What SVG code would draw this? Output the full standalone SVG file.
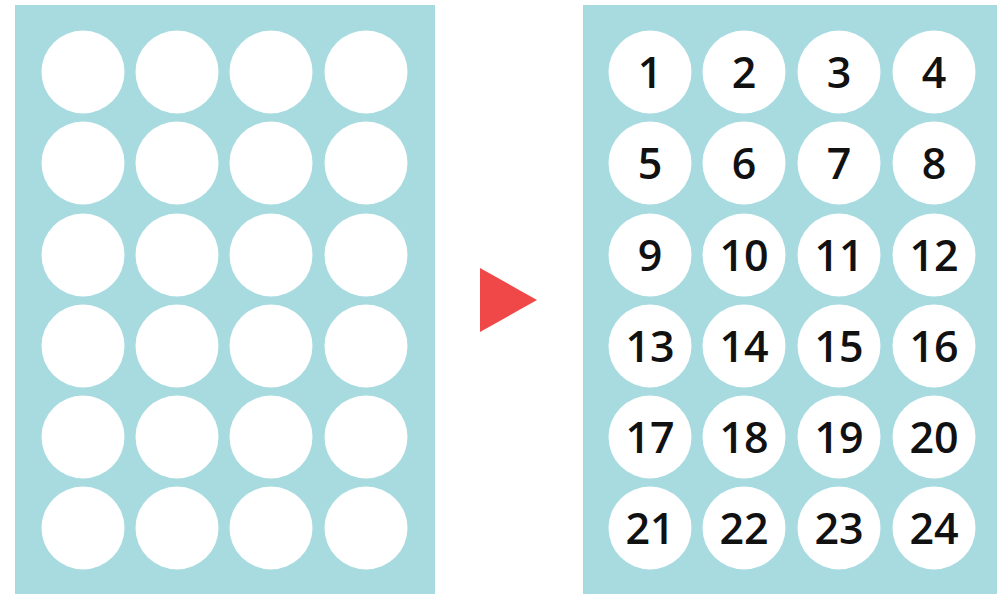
<svg xmlns="http://www.w3.org/2000/svg" width="1000" height="598" viewBox="0 0 1000 598">
<style>
.panel{fill:#a7dbe0}
.c{fill:#ffffff}
.n{font-family:"Open Sans","Noto Sans",sans-serif;font-size:43px;font-weight:600;fill:#111111;text-anchor:middle}
</style>
<defs><circle id="dot" r="41.5" class="c"/></defs>
<rect width="1000" height="598" fill="#ffffff"/>
<g id="left-sheet">
<rect class="panel" x="15" y="5" width="420" height="589"/>
<g>
<use href="#dot" x="83" y="72"/><use href="#dot" x="177" y="72"/><use href="#dot" x="271" y="72"/><use href="#dot" x="366" y="72"/>
<use href="#dot" x="83" y="163"/><use href="#dot" x="177" y="163"/><use href="#dot" x="271" y="163"/><use href="#dot" x="366" y="163"/>
<use href="#dot" x="83" y="255"/><use href="#dot" x="177" y="255"/><use href="#dot" x="271" y="255"/><use href="#dot" x="366" y="255"/>
<use href="#dot" x="83" y="346"/><use href="#dot" x="177" y="346"/><use href="#dot" x="271" y="346"/><use href="#dot" x="366" y="346"/>
<use href="#dot" x="83" y="437"/><use href="#dot" x="177" y="437"/><use href="#dot" x="271" y="437"/><use href="#dot" x="366" y="437"/>
<use href="#dot" x="83" y="528"/><use href="#dot" x="177" y="528"/><use href="#dot" x="271" y="528"/><use href="#dot" x="366" y="528"/>
</g>
</g>
<g id="arrow">
<polygon points="480,268 537,300 480,332" fill="#f04848"/>
</g>
<g id="right-sheet">
<rect class="panel" x="583" y="5" width="414" height="589"/>
<g>
<use href="#dot" x="650" y="72"/><use href="#dot" x="744" y="72"/><use href="#dot" x="839" y="72"/><use href="#dot" x="934" y="72"/>
<use href="#dot" x="650" y="163"/><use href="#dot" x="744" y="163"/><use href="#dot" x="839" y="163"/><use href="#dot" x="934" y="163"/>
<use href="#dot" x="650" y="255"/><use href="#dot" x="744" y="255"/><use href="#dot" x="839" y="255"/><use href="#dot" x="934" y="255"/>
<use href="#dot" x="650" y="346"/><use href="#dot" x="744" y="346"/><use href="#dot" x="839" y="346"/><use href="#dot" x="934" y="346"/>
<use href="#dot" x="650" y="437"/><use href="#dot" x="744" y="437"/><use href="#dot" x="839" y="437"/><use href="#dot" x="934" y="437"/>
<use href="#dot" x="650" y="528"/><use href="#dot" x="744" y="528"/><use href="#dot" x="839" y="528"/><use href="#dot" x="934" y="528"/>
</g>
<g>
<text class="n" x="650" y="88">1</text><text class="n" x="744" y="88">2</text><text class="n" x="839" y="88">3</text><text class="n" x="934" y="88">4</text>
<text class="n" x="650" y="179">5</text><text class="n" x="744" y="179">6</text><text class="n" x="839" y="179">7</text><text class="n" x="934" y="179">8</text>
<text class="n" x="650" y="271">9</text><text class="n" x="744" y="271">10</text><text class="n" x="839" y="271">11</text><text class="n" x="934" y="271">12</text>
<text class="n" x="650" y="362">13</text><text class="n" x="744" y="362">14</text><text class="n" x="839" y="362">15</text><text class="n" x="934" y="362">16</text>
<text class="n" x="650" y="453">17</text><text class="n" x="744" y="453">18</text><text class="n" x="839" y="453">19</text><text class="n" x="934" y="453">20</text>
<text class="n" x="650" y="544">21</text><text class="n" x="744" y="544">22</text><text class="n" x="839" y="544">23</text><text class="n" x="934" y="544">24</text>
</g>
</g>
</svg>
